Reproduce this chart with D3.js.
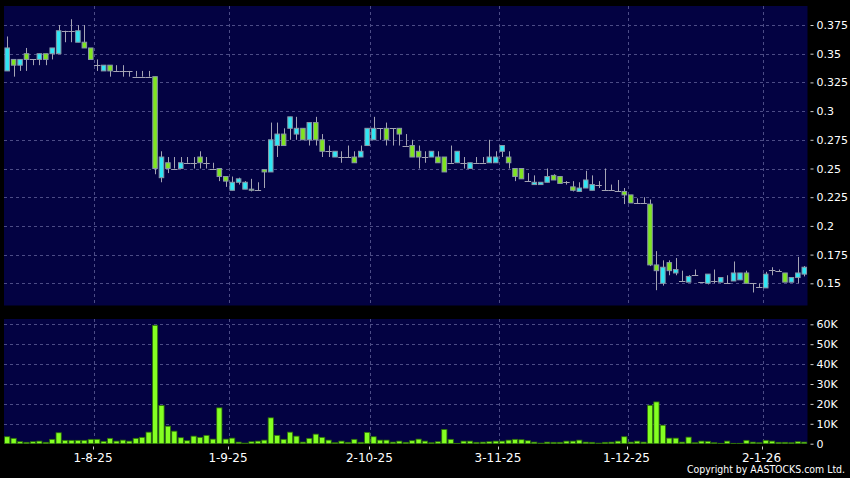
<!DOCTYPE html>
<html>
<head>
<meta charset="utf-8">
<script src="https://cdn.jsdelivr.net/npm/d3@7"></script>
<style>
    html, body { margin: 0; padding: 0; background: #000; overflow: hidden; }
    svg { display: block; }
</style>
</head>
<body>
<script>
(function () {
    "use strict";

    // daily OHLC, one entry per trading day
    var openP = [0.335, 0.345, 0.34, 0.35, 0.345, 0.345, 0.35, 0.35, 0.35, 0.37,
        0.37, 0.36, 0.36, 0.355, 0.34, 0.335, 0.34, 0.335, 0.335, 0.335,
        0.33, 0.33, 0.33, 0.33, 0.242, 0.255, 0.25, 0.25, 0.255, 0.255,
        0.26, 0.255, 0.25, 0.25, 0.243, 0.231, 0.238, 0.232, 0.232, 0.231,
        0.249, 0.247, 0.27, 0.28, 0.285, 0.28, 0.285, 0.275, 0.29, 0.275,
        0.265, 0.26, 0.26, 0.26, 0.26, 0.26, 0.27, 0.275, 0.285, 0.285,
        0.285, 0.285, 0.27, 0.27, 0.265, 0.26, 0.26, 0.26, 0.26, 0.255,
        0.255, 0.255, 0.25, 0.255, 0.255, 0.255, 0.255, 0.265, 0.26, 0.25,
        0.25, 0.239, 0.236, 0.236, 0.238, 0.244, 0.243, 0.238, 0.234, 0.230,
        0.233, 0.231, 0.236, 0.231, 0.231, 0.230, 0.230, 0.227, 0.22, 0.22,
        0.219, 0.166, 0.15, 0.168, 0.159, 0.152, 0.151, 0.157, 0.151, 0.15,
        0.152, 0.151, 0.15, 0.152, 0.153, 0.159, 0.15, 0.147, 0.146, 0.162,
        0.161, 0.159, 0.151, 0.155, 0.158];
    var highP = [0.365, 0.345, 0.345, 0.355, 0.345, 0.35, 0.35, 0.355, 0.375, 0.37,
        0.38, 0.375, 0.375, 0.355, 0.345, 0.34, 0.34, 0.34, 0.34, 0.335,
        0.335, 0.335, 0.335, 0.33, 0.265, 0.26, 0.26, 0.26, 0.26, 0.26,
        0.265, 0.26, 0.255, 0.25, 0.243, 0.243, 0.242, 0.239, 0.241, 0.238,
        0.249, 0.29, 0.29, 0.285, 0.295, 0.295, 0.285, 0.29, 0.295, 0.28,
        0.27, 0.265, 0.265, 0.27, 0.265, 0.27, 0.285, 0.295, 0.285, 0.29,
        0.285, 0.285, 0.28, 0.275, 0.27, 0.265, 0.265, 0.265, 0.26, 0.27,
        0.265, 0.26, 0.255, 0.26, 0.26, 0.275, 0.265, 0.27, 0.265, 0.25,
        0.25, 0.246, 0.244, 0.238, 0.25, 0.245, 0.243, 0.239, 0.239, 0.238,
        0.248, 0.244, 0.239, 0.25, 0.236, 0.24, 0.233, 0.227, 0.224, 0.225,
        0.223, 0.178, 0.17, 0.17, 0.172, 0.161, 0.157, 0.162, 0.151, 0.158,
        0.162, 0.155, 0.157, 0.169, 0.159, 0.161, 0.15, 0.15, 0.16, 0.164,
        0.162, 0.159, 0.155, 0.173, 0.165];
    var lowP = [0.335, 0.33, 0.335, 0.335, 0.34, 0.34, 0.34, 0.345, 0.35, 0.36,
        0.36, 0.36, 0.355, 0.345, 0.335, 0.335, 0.33, 0.335, 0.33, 0.33,
        0.33, 0.33, 0.33, 0.245, 0.238, 0.246, 0.25, 0.25, 0.255, 0.25,
        0.25, 0.25, 0.25, 0.239, 0.234, 0.231, 0.236, 0.232, 0.230, 0.231,
        0.233, 0.247, 0.26, 0.27, 0.275, 0.275, 0.275, 0.27, 0.27, 0.26,
        0.26, 0.26, 0.255, 0.26, 0.255, 0.26, 0.27, 0.275, 0.275, 0.27,
        0.27, 0.27, 0.27, 0.26, 0.25, 0.255, 0.26, 0.255, 0.247, 0.255,
        0.255, 0.25, 0.25, 0.255, 0.255, 0.255, 0.255, 0.26, 0.25, 0.239,
        0.241, 0.239, 0.236, 0.236, 0.238, 0.24, 0.237, 0.236, 0.23, 0.230,
        0.233, 0.231, 0.233, 0.231, 0.231, 0.23, 0.219, 0.22, 0.22, 0.22,
        0.165, 0.144, 0.148, 0.157, 0.157, 0.152, 0.151, 0.157, 0.151, 0.149,
        0.15, 0.151, 0.15, 0.152, 0.153, 0.15, 0.142, 0.146, 0.146, 0.157,
        0.16, 0.151, 0.151, 0.15, 0.156];
    var closeP = [0.355, 0.34, 0.345, 0.345, 0.345, 0.35, 0.345, 0.355, 0.37, 0.37,
        0.37, 0.37, 0.355, 0.345, 0.34, 0.34, 0.335, 0.335, 0.335, 0.335,
        0.33, 0.33, 0.33, 0.25, 0.26, 0.25, 0.25, 0.255, 0.255, 0.255,
        0.255, 0.255, 0.25, 0.243, 0.239, 0.238, 0.241, 0.238, 0.231, 0.231,
        0.247, 0.275, 0.28, 0.27, 0.295, 0.285, 0.275, 0.29, 0.275, 0.265,
        0.265, 0.265, 0.26, 0.26, 0.255, 0.265, 0.285, 0.285, 0.285, 0.275,
        0.285, 0.28, 0.27, 0.26, 0.26, 0.26, 0.265, 0.255, 0.247, 0.255,
        0.265, 0.255, 0.255, 0.255, 0.255, 0.26, 0.26, 0.27, 0.255, 0.243,
        0.241, 0.239, 0.238, 0.238, 0.243, 0.24, 0.237, 0.238, 0.231, 0.233,
        0.24, 0.236, 0.236, 0.231, 0.231, 0.230, 0.227, 0.22, 0.22, 0.22,
        0.166, 0.161, 0.164, 0.161, 0.162, 0.152, 0.156, 0.157, 0.151, 0.158,
        0.152, 0.155, 0.15, 0.159, 0.159, 0.15, 0.15, 0.147, 0.158, 0.162,
        0.161, 0.151, 0.155, 0.159, 0.164];
    // volume, thousands of shares
    var volume = [3.5, 2.7, 1.0, 0.7, 1.0, 1.3, 0.7, 2.2, 5.5, 1.7,
        1.7, 1.7, 1.7, 2.2, 2.2, 1.2, 2.7, 1.3, 1.8, 1.3,
        2.7, 3.2, 5.8, 59.5, 19.2, 8.8, 6.3, 3.0, 1.5, 3.8,
        3.2, 4.2, 2.3, 18.0, 2.3, 2.8, 0.8, 0.3, 1.0, 1.3,
        1.8, 13.0, 4.2, 2.2, 5.8, 3.8, 0.8, 2.7, 4.8, 3.2,
        1.8, 0.5, 1.3, 0.7, 2.2, 0.7, 5.7, 3.5, 1.8, 1.8,
        0.8, 1.3, 0.7, 1.5, 2.3, 1.3, 0.5, 1.0, 7.2, 2.2,
        0.2, 1.3, 1.3, 0.7, 0.8, 1.0, 1.3, 1.3, 1.8, 2.2,
        2.0, 1.5, 0.8, 0.3, 0.8, 0.7, 0.7, 1.3, 1.3, 1.8,
        0.8, 0.7, 0.3, 0.7, 0.8, 1.3, 3.5, 0.8, 1.3, 0.8,
        19.3, 21.0, 9.3, 2.8, 2.8, 0.8, 3.3, 0.5, 1.3, 1.2,
        0.5, 0.2, 1.3, 0.2, 0.2, 1.7, 0.8, 0.5, 1.7, 1.3,
        0.7, 0.7, 0.5, 1.0, 0.8];

    // first trading day of each month, as index into the series
    var monthIndex = [13, 34, 56, 76, 96, 117];
    var monthLabels = ["1-8-25", "1-9-25", "2-10-25", "3-11-25", "1-12-25", "2-1-26"];

    var priceTicks = [0.15, 0.175, 0.2, 0.225, 0.25, 0.275, 0.3, 0.325, 0.35, 0.375];
    var priceTickLabels = ["0.15", "0.175", "0.2", "0.225", "0.25", "0.275", "0.3", "0.325", "0.35", "0.375"];
    var volumeTicks = [0, 10, 20, 30, 40, 50, 60];
    var volumeTickLabels = ["0", "10K", "20K", "30K", "40K", "50K", "60K"];

    var chart = {width: 850, height: 478};
    chart.price = {left: 4, right: 807.5, top: 6, bottom: 305.5};
    chart.vol = {left: 4, right: 807.5, top: 319, bottom: 444};

    var colors = {
        panel: "#030242",
        grid: "#4c4c86",
        up: "#2fe6f4",
        down: "#7fe51f",
        bodyEdge: "#8a98a8",
        wick: "#a4a4b4",
        volFill: "#84ff22",
        volEdge: "#2c6e08",
        text: "#ffffff"
    };

    var days = d3.range(openP.length);

    var x = d3.scaleBand()
        .domain(days)
        .range([chart.price.left, chart.price.right])
        .paddingInner(0.14)
        .paddingOuter(0.07);

    var y = d3.scaleLinear()
        .domain([0.15, 0.375])
        .range([283.3, 25]);

    var yVol = d3.scaleLinear()
        .domain([0, 60])
        .range([443.7, 324.3]);

    var mid = function (i) { return x(i) + x.bandwidth() / 2; };
    // month boundary sits between the candle before and the first candle of the month
    var monthX = function (i) { return x(i) + x.bandwidth() + x.step() * x.paddingInner() / 2; };

    var svg = d3.select("body")
        .append("svg")
        .attr("width", chart.width)
        .attr("height", chart.height)
        .style("background", "#000");

    // panels
    [chart.price, chart.vol].forEach(function (p, k) {
        svg.append("rect")
            .attr("x", p.left)
            .attr("y", p.top)
            .attr("width", p.right - p.left)
            .attr("height", p.bottom - p.top)
            .attr("fill", colors.panel);

        svg.append("clipPath")
            .attr("id", "clip" + k)
            .append("rect")
            .attr("x", p.left)
            .attr("y", p.top)
            .attr("width", p.right - p.left)
            .attr("height", p.bottom - p.top);
    });

    var gridStyle = function (sel) {
        sel.attr("stroke", colors.grid)
            .attr("stroke-width", 1)
            .attr("stroke-dasharray", "3,3")
            .attr("shape-rendering", "crispEdges");
    };

    // grid, price panel
    var priceGrid = svg.append("g").attr("clip-path", "url(#clip0)");
    priceGrid.selectAll("line.h")
        .data(priceTicks)
        .join("line")
        .attr("class", "h")
        .attr("x1", chart.price.left)
        .attr("x2", chart.price.right)
        .attr("y1", function (d) { return Math.round(y(d)) + 0.5; })
        .attr("y2", function (d) { return Math.round(y(d)) + 0.5; })
        .call(gridStyle);
    priceGrid.selectAll("line.v")
        .data(monthIndex)
        .join("line")
        .attr("class", "v")
        .attr("x1", function (d) { return Math.round(monthX(d)) + 0.5; })
        .attr("x2", function (d) { return Math.round(monthX(d)) + 0.5; })
        .attr("y1", chart.price.top)
        .attr("y2", chart.price.bottom)
        .call(gridStyle);

    // grid, volume panel
    var volGrid = svg.append("g").attr("clip-path", "url(#clip1)");
    volGrid.selectAll("line.h")
        .data(volumeTicks.slice(1))
        .join("line")
        .attr("class", "h")
        .attr("x1", chart.vol.left)
        .attr("x2", chart.vol.right)
        .attr("y1", function (d) { return Math.round(yVol(d)) + 0.5; })
        .attr("y2", function (d) { return Math.round(yVol(d)) + 0.5; })
        .call(gridStyle);
    volGrid.selectAll("line.v")
        .data(monthIndex)
        .join("line")
        .attr("class", "v")
        .attr("x1", function (d) { return Math.round(monthX(d)) + 0.5; })
        .attr("x2", function (d) { return Math.round(monthX(d)) + 0.5; })
        .attr("y1", chart.vol.top)
        .attr("y2", chart.vol.bottom)
        .call(gridStyle);

    // candles
    var candles = svg.append("g")
        .attr("clip-path", "url(#clip0)")
        .selectAll("g")
        .data(days)
        .join("g");

    candles.append("line")
        .attr("x1", function (i) { return Math.round(mid(i)) + 0.5; })
        .attr("x2", function (i) { return Math.round(mid(i)) + 0.5; })
        .attr("y1", function (i) { return y(highP[i]); })
        .attr("y2", function (i) { return y(lowP[i]); })
        .attr("stroke", colors.wick)
        .attr("stroke-width", 1);

    // flat days are a plain horizontal tick across the whole slot
    candles.filter(function (i) { return openP[i] === closeP[i]; })
        .append("line")
        .attr("x1", function (i) { return mid(i) - x.step() / 2; })
        .attr("x2", function (i) { return mid(i) + x.step() / 2; })
        .attr("y1", function (i) { return Math.round(y(closeP[i])) + 0.5; })
        .attr("y2", function (i) { return Math.round(y(closeP[i])) + 0.5; })
        .attr("stroke", colors.wick)
        .attr("stroke-width", 1.2);

    candles.filter(function (i) { return openP[i] !== closeP[i]; })
        .append("rect")
        .attr("x", function (i) { return x(i) + 0.5; })
        .attr("width", x.bandwidth() - 1)
        .attr("y", function (i) { return y(Math.max(openP[i], closeP[i])); })
        .attr("height", function (i) { return Math.abs(y(openP[i]) - y(closeP[i])); })
        .attr("fill", function (i) { return closeP[i] > openP[i] ? colors.up : colors.down; })
        .attr("stroke", colors.bodyEdge)
        .attr("stroke-width", 1);

    // volume bars
    svg.append("g")
        .attr("clip-path", "url(#clip1)")
        .selectAll("rect")
        .data(days)
        .join("rect")
        .attr("x", function (i) { return mid(i) - x.step() / 2 + 0.6; })
        .attr("width", x.step() - 1.2)
        .attr("y", function (i) { return yVol(volume[i]); })
        .attr("height", function (i) { return yVol(0) - yVol(volume[i]); })
        .attr("fill", colors.volFill)
        .attr("stroke", colors.volEdge)
        .attr("stroke-width", 0.8);

    // right axes
    var axisText = function (g) {
        g.select(".domain").remove();
        g.selectAll(".tick line").attr("stroke", "#cfcfcf");
        g.selectAll(".tick text")
            .attr("fill", colors.text)
            .style("font-family", "'DejaVu Sans', sans-serif")
            .style("font-size", "11px");
    };

    svg.append("g")
        .attr("transform", "translate(810.5,0)")
        .call(d3.axisRight(y)
            .tickValues(priceTicks)
            .tickSize(3)
            .tickPadding(3)
            .tickFormat(function (d, k) { return priceTickLabels[k]; }))
        .call(axisText);

    svg.append("g")
        .attr("transform", "translate(810.5,0)")
        .call(d3.axisRight(yVol)
            .tickValues(volumeTicks)
            .tickSize(3)
            .tickPadding(3)
            .tickFormat(function (d, k) { return volumeTickLabels[k]; }))
        .call(axisText);

    // date axis under the volume panel
    var dateAxis = svg.append("g");
    dateAxis.selectAll("line")
        .data(monthIndex)
        .join("line")
        .attr("x1", function (d) { return Math.round(monthX(d)) - 0.5; })
        .attr("x2", function (d) { return Math.round(monthX(d)) - 0.5; })
        .attr("y1", 446.5)
        .attr("y2", 449.5)
        .attr("stroke", "#cfcfcf");
    dateAxis.selectAll("text")
        .data(monthIndex)
        .join("text")
        .attr("x", function (d) { return monthX(d) - 1; })
        .attr("y", 461.5)
        .attr("text-anchor", "middle")
        .attr("fill", colors.text)
        .style("font-family", "'DejaVu Sans', sans-serif")
        .style("font-size", "12px")
        .text(function (d, k) { return monthLabels[k]; });

    svg.append("text")
        .attr("x", 845)
        .attr("y", 472.5)
        .attr("text-anchor", "end")
        .attr("fill", colors.text)
        .attr("textLength", 158)
        .attr("lengthAdjust", "spacingAndGlyphs")
        .style("font-family", "'DejaVu Sans Condensed', 'DejaVu Sans', sans-serif")
        .style("font-size", "11px")
        .text("Copyright by AASTOCKS.com Ltd.");
})();
</script>
</body>
</html>
